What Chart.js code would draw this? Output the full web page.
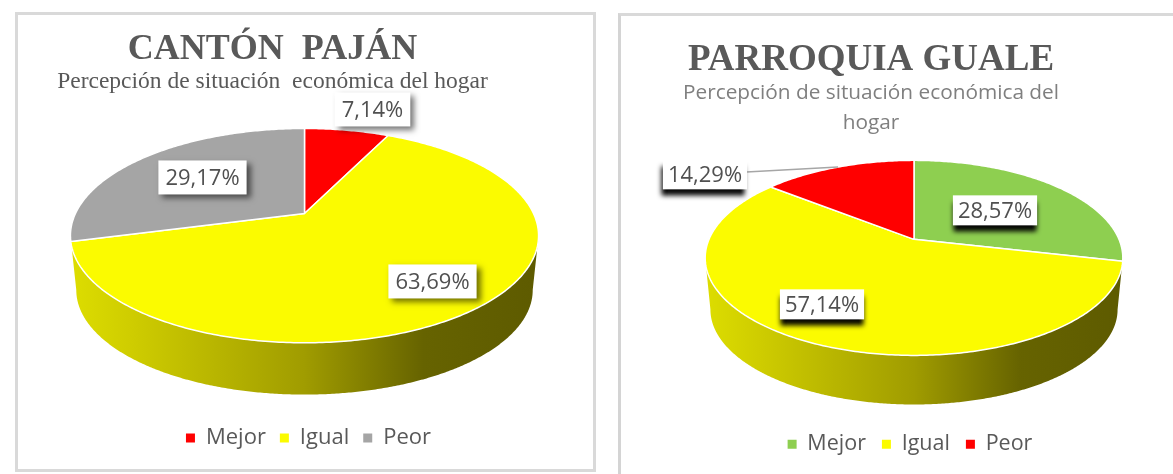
<!DOCTYPE html>
<html><head><meta charset="utf-8">
<script src="https://cdn.jsdelivr.net/npm/chart.js@4"></script>
<style>
html,body{margin:0;padding:0;background:#fff;width:1173px;height:474px;overflow:hidden}
.p{position:absolute;box-sizing:border-box;background:#fff}
#a{left:15px;top:12px;width:581px;height:460px;border:3px solid #d9d9d9}
#b{left:618px;top:13px;width:555px;height:461px;border-left:3px solid #d4d4d4;border-top:3px solid #d9d9d9}
canvas{display:block}
</style></head><body>
<div class="p" id="a"><canvas id="c1"></canvas></div>
<div class="p" id="b"><canvas id="c2"></canvas></div>
<script>
const categories = ['Mejor', 'Igual', 'Peor'];
const pajanValues = [7.14, 63.69, 29.17];
const pajanColors = ['#ff0000', '#fbfb00', '#a5a5a5'];
const gualeValues = [28.57, 57.14, 14.29];
const gualeColors = ['#8ecf50', '#fbfb00', '#ff0000'];
const pajanTitle = 'CANTÓN  PAJÁN';
const pajanSubtitle = 'Percepción de situación  económica del hogar';
const gualeTitle = 'PARROQUIA GUALE';
const gualeSubtitle = ['Percepción de situación económica del', 'hogar'];

const fmt = v => v.toFixed(2).replace('.', ',') + '%';

const pie3d = {
  id: 'pie3d',
  afterLayout(chart, args, o) {
    chart.boxes.forEach(b => {
      if (!b.options) return;
      if (b.options.text !== undefined && b.position === 'top') { b.left += o.titleShift; b.right += o.titleShift; }
      if (b === chart.legend) {
        b.legendHitBoxes.forEach(h => { h.left += o.legendShift; h.top += o.legendDy; });
        b.left += o.legendShift; b.right += o.legendShift; b.top += o.legendDy; b.bottom += o.legendDy;
      }
    });
  },
  beforeDatasetsDraw(chart, args, o) {
    const ctx = chart.ctx, arcs = chart.getDatasetMeta(0).data;
    const a0 = arcs[0];
    const cx = a0.x + o.dx, cy = a0.y + o.dy, rx = a0.outerRadius, ry = rx * o.squash, k = o.k;
    const P = (r, a, oy = 0, s = 1) => {
      const u = r * Math.cos(a), v = r * Math.sin(a), w = 1 - k * v;
      return [cx + s * rx * u / w, cy + oy + s * ry * v / w];
    };
    // extruded side, between the widest points of the rim
    const g = ctx.createLinearGradient(cx - rx, 0, cx + rx, 0);
    o.sideStops.forEach(s => g.addColorStop(s[0], s[1]));
    const N = 360, a1 = Math.asin(k), a2 = Math.PI - a1;
    ctx.save();
    ctx.beginPath();
    for (let i = 0; i <= N; i++) {
      const p = P(1, a1 + i / N * (a2 - a1)); i ? ctx.lineTo(p[0], p[1]) : ctx.moveTo(p[0], p[1]);
    }
    for (let i = N; i >= 0; i--) {
      const p = P(1, a1 + i / N * (a2 - a1), o.depth, o.bottomScale); ctx.lineTo(p[0], p[1]);
    }
    ctx.closePath(); ctx.fillStyle = g; ctx.fill();
    // top faces
    arcs.forEach((arc, i) => {
      ctx.beginPath();
      ctx.moveTo(cx, cy);
      const n = Math.max(8, Math.ceil((arc.endAngle - arc.startAngle) * 80));
      for (let j = 0; j <= n; j++) {
        const p = P(1, arc.startAngle + (arc.endAngle - arc.startAngle) * j / n);
        ctx.lineTo(p[0], p[1]);
      }
      ctx.closePath();
      ctx.fillStyle = chart.data.datasets[0].backgroundColor[i];
      ctx.fill();
      ctx.strokeStyle = '#fff'; ctx.lineWidth = 1.5; ctx.lineJoin = 'round'; ctx.stroke();
    });
    // leader lines
    (o.leaders || []).forEach((on, i) => {
      if (!on) return;
      const arc = arcs[i], m = (arc.startAngle + arc.endAngle) / 2, p = P(1, m);
      ctx.beginPath();
      ctx.moveTo(cx + o.labels[i][0], cy + o.labels[i][1]);
      ctx.lineTo(p[0], p[1]);
      ctx.strokeStyle = '#a6a6a6'; ctx.lineWidth = 1.5; ctx.stroke();
    });
    // labels
    ctx.font = o.labelFont; ctx.textAlign = 'center'; ctx.textBaseline = 'middle';
    chart.data.datasets[0].data.forEach((v, i) => {
      const t = fmt(v), x = cx + o.labels[i][0], y = cy + o.labels[i][1];
      const w = ctx.measureText(t).width + o.padX * 2, h = o.boxH;
      ctx.save();
      ctx.shadowColor = o.shadow[0]; ctx.shadowBlur = o.shadow[1];
      ctx.shadowOffsetX = (o.shadowX && o.shadowX[i] !== undefined) ? o.shadowX[i] : o.shadow[2]; ctx.shadowOffsetY = o.shadow[3];
      ctx.fillStyle = '#fff'; ctx.fillRect(x - w / 2, y - h / 2, w, h);
      ctx.restore();
      ctx.fillStyle = '#505050'; ctx.fillText(t, x, y + 1);
    });
    ctx.restore();
    return false;
  }
};

function make(id, w, h, values, colors, title, sub, o) {
  const c = document.getElementById(id);
  c.width = w; c.height = h; c.style.width = w + 'px'; c.style.height = h + 'px';
  new Chart(c, {
    type: 'pie',
    data: { labels: categories, datasets: [{ data: values, backgroundColor: colors, radius: o.radius, borderWidth: 0 }] },
    plugins: [pie3d],
    options: {
      responsive: false, animation: false,
      layout: { padding: { top: o.top } },
      plugins: {
        tooltip: { enabled: false },
        title: { display: true, text: title, color: '#595959', font: { family: 'Liberation Serif', size: o.titleSize, weight: 'bold' }, padding: { top: 0, bottom: o.titleGap } },
        subtitle: { display: true, text: sub, color: o.subColor, font: { family: o.subFamily, size: o.subSize, weight: 'normal', lineHeight: o.subLine }, padding: 0 },
        legend: { position: 'bottom', labels: { boxWidth: 9, boxHeight: 9, padding: o.legendPad, color: '#595959', font: { family: 'Open Sans', size: o.legendSize } } },
        pie3d: o.pie
      }
    }
  });
}

const sideStops = [[0, '#dcdc00'], [0.12, '#cfcd00'], [0.5, '#a09c00'], [0.76, '#666300'], [1, '#5e5b00']];

make('c1', 575, 454, pajanValues, pajanColors, pajanTitle, pajanSubtitle, {
  radius: 229, top: 13, titleSize: 36, titleGap: -3.5, subColor: '#595959', subFamily: 'Liberation Serif', subSize: 23.5, subLine: 1.2,
  legendPad: 14, legendSize: 22,
  pie: { dx: -1, dy: -46, squash: 0.448, k: 0.207, depth: 55, bottomScale: 0.975, sideStops,
    titleShift: -33, legendShift: 3, legendDy: -10,
    labels: [[68, -104], [128, 68], [-102, -36]], labelFont: '22px "Open Sans"', padX: 7, boxH: 34,
    shadow: ['rgba(0,0,0,0.55)', 6, 4, 4] }
});
make('c2', 552, 458, gualeValues, gualeColors, gualeTitle, gualeSubtitle, {
  radius: 205, top: 22.6, titleSize: 37, titleGap: -4.7, subColor: '#7f7f7f', subFamily: 'Open Sans', subSize: 20.8, subLine: 1.44,
  legendPad: 16, legendSize: 21.5,
  pie: { dx: 17, dy: -43, squash: 0.4585, k: 0.19, depth: 52, bottomScale: 0.975, sideStops,
    titleShift: -26, legendShift: 13, legendDy: -9,
    labels: [[81, -29], [-92, 65], [-209, -65]], leaders: [false, false, true], labelFont: '22px "Open Sans"', padX: 5, boxH: 30,
    shadow: ['rgba(0,0,0,1)', 5, 0, 7], shadowX: [0, 0, -2] }
});
</script>
</body></html>
